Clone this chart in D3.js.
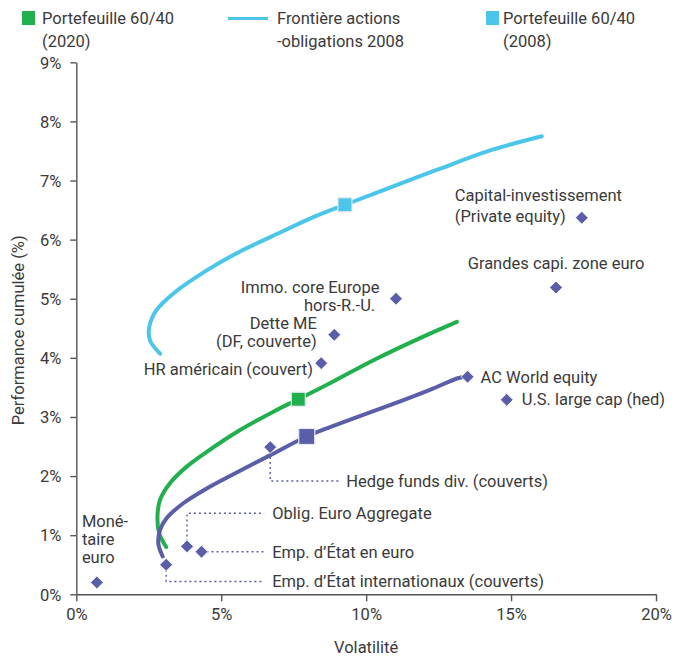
<!DOCTYPE html>
<html>
<head>
<meta charset="utf-8">
<script src="https://cdn.jsdelivr.net/npm/d3@7/dist/d3.min.js"></script>
<style>
  html, body { margin: 0; padding: 0; background: #fff; }
  svg text { font-family: Roboto, "Noto Sans", sans-serif; fill: #3a3a3a; }
</style>
</head>
<body>
<svg id="chart" width="690" height="657"></svg>
<script>
// ---------- DATA ----------
const xTicks = [0, 5, 10, 15, 20];
const yTicks = [0, 1, 2, 3, 4, 5, 6, 7, 8, 9];

const assetNames = [
  "Monétaire euro", "Emp. d’État internationaux (couverts)", "Oblig. Euro Aggregate",
  "Emp. d’État en euro", "Hedge funds div. (couverts)", "HR américain (couvert)",
  "Dette ME (DF, couverte)", "Immo. core Europe hors-R.-U.", "Capital-investissement (Private equity)",
  "Grandes capi. zone euro", "AC World equity", "U.S. large cap (hed)"
];
const assetVol = [0.71, 3.10, 3.82, 4.32, 6.69, 8.45, 8.90, 11.03, 17.44, 16.55, 13.50, 14.85];
const assetRet = [0.20, 0.50, 0.81, 0.72, 2.49, 3.91, 4.39, 5.00, 6.37, 5.19, 3.68, 3.29];

// Frontière actions-obligations 2008 (cyan)
const frontier2008Vol = [2.89, 2.54, 2.52, 2.77, 3.35, 4.50, 5.65, 7.03, 8.18, 9.27, 10.82, 12.55, 14.28, 16.06];
const frontier2008Ret = [4.07, 4.30, 4.53, 4.81, 5.09, 5.48, 5.80, 6.12, 6.38, 6.59, 6.88, 7.20, 7.51, 7.75];

// Frontière 2020 (green)
const frontier2020Vol = [3.10, 2.86, 2.80, 2.89, 3.23, 3.81, 4.50, 5.65, 6.80, 7.66, 8.75, 10.25, 11.97, 13.13];
const frontier2020Ret = [0.80, 1.03, 1.31, 1.60, 1.88, 2.16, 2.41, 2.78, 3.09, 3.30, 3.57, 3.96, 4.36, 4.61];

// Frontière actuelle (purple)
const frontierNowVol = [2.98, 2.83, 2.89, 3.12, 3.69, 4.50, 5.65, 6.68, 7.95, 9.10, 10.82, 12.20, 13.19, 13.45];
const frontierNowRet = [0.64, 0.86, 1.09, 1.29, 1.54, 1.79, 2.09, 2.35, 2.67, 2.89, 3.20, 3.46, 3.66, 3.68];

// Portefeuilles 60/40
const portfolioNames = ["Portefeuille 60/40 (2020)", "Portefeuille 60/40 (2008)", "Portefeuille 60/40 (actuel)"];
const portfolioVol = [7.66, 9.27, 7.95];
const portfolioRet = [3.30, 6.59, 2.67];

const legendLabels = [
  ["Portefeuille 60/40", "(2020)"],
  ["Frontière actions", "-obligations 2008"],
  ["Portefeuille 60/40", "(2008)"]
];

// ---------- STYLE / LAYOUT ----------
const GREEN = "#22b04f", CYAN = "#4bc5e9", PURPLE = "#5a5ea9";
const portfolioColors = [GREEN, CYAN, PURPLE];
const portfolioSizes = [14, 14, 16];

const svg = d3.select("#chart");
const x = d3.scaleLinear().domain([0, 20]).range([76.3, 656]);
const y = d3.scaleLinear().domain([0, 9]).range([594.3, 62.3]);
const FS = 16.5;

// Axes
const gx = svg.append("g").attr("transform", `translate(0,${y(0)})`)
  .call(d3.axisBottom(x).tickValues(xTicks).tickFormat(d => d + "%").tickSize(7).tickSizeOuter(0).tickPadding(7));
const gy = svg.append("g").attr("transform", `translate(${x(0)},0)`)
  .call(d3.axisLeft(y).tickValues(yTicks).tickFormat(d => d + "%").tickSize(6).tickSizeOuter(0).tickPadding(9));
[gx, gy].forEach(g => {
  g.select(".domain").attr("stroke", "#555").attr("stroke-width", 1.4);
  g.selectAll(".tick line").attr("stroke", "#555").attr("stroke-width", 1.4);
  g.selectAll(".tick text").attr("font-size", FS).attr("fill", "#3a3a3a")
    .style("font-family", "Roboto, 'Noto Sans', sans-serif");
});
gy.selectAll(".tick text").attr("dy", "0.35em");

svg.append("text").attr("x", (x(0) + x(20)) / 2).attr("y", 653)
  .attr("text-anchor", "middle").attr("font-size", FS).text("Volatilité");
svg.append("text").attr("transform", `translate(24,${(y(0) + y(9)) / 2 + 2}) rotate(-90)`)
  .attr("text-anchor", "middle").attr("font-size", FS).text("Performance cumulée (%)");

// Curves
const line = d3.line().x(d => x(d[0])).y(d => y(d[1])).curve(d3.curveCatmullRom.alpha(0.5));
const curves = [
  [frontier2008Vol, frontier2008Ret, CYAN],
  [frontier2020Vol, frontier2020Ret, GREEN],
  [frontierNowVol, frontierNowRet, PURPLE]
];
curves.forEach(([vx, vy, c]) => {
  svg.append("path").datum(vx.map((v, i) => [v, vy[i]]))
    .attr("d", line).attr("fill", "none").attr("stroke", c)
    .attr("stroke-width", 4).attr("stroke-linecap", "round");
});

// Leader lines (dotted) for bottom labels
// [asset index, elbow return (data), label volatility (data), line end volatility (data)]
const leaders = [
  [4, 1.917, 9.31, 9.10],
  [2, 1.37, 6.76, 6.48],
  [3, 0.72, 6.76, 6.48],
  [1, 0.217, 6.76, 6.48]
];
leaders.forEach(([i, er, lx, le]) => {
  const px = x(assetVol[i]), py = y(assetRet[i]);
  svg.append("path")
    .attr("d", `M${px},${py}L${px},${y(er)}L${x(le)},${y(er)}`)
    .attr("fill", "none").attr("stroke", PURPLE).attr("stroke-width", 1.4)
    .attr("stroke-dasharray", "2,3");
  svg.append("text").attr("x", x(lx)).attr("y", y(er)).attr("dy", "0.36em")
    .attr("font-size", FS).text(assetNames[i]);
});

// Diamonds
const diamond = d3.symbol().type(d3.symbolDiamond2).size(105);
assetNames.forEach((n, i) => {
  svg.append("path").attr("d", diamond())
    .attr("transform", `translate(${x(assetVol[i])},${y(assetRet[i])})`)
    .attr("fill", PURPLE).attr("stroke", "#fff").attr("stroke-width", 0.8);
});

// Portfolio squares
portfolioNames.forEach((n, i) => {
  const s = portfolioSizes[i];
  svg.append("rect")
    .attr("x", x(portfolioVol[i]) - s / 2).attr("y", y(portfolioRet[i]) - s / 2)
    .attr("width", s).attr("height", s)
    .attr("fill", portfolioColors[i]).attr("stroke", "#e6e6f0").attr("stroke-width", 1.2);
});

// Point labels: [asset index, lines, dx, dy(first baseline), anchor, line spacing]
const pointLabels = [
  [0, ["Moné-", "taire", "euro"], -15, -55.5, "start", 18],
  [8, ["Capital-investissement", "(Private equity)"], -127, -17, "start", 21],
  [9, ["Grandes capi. zone euro"], 0, -19, "middle", 0],
  [7, ["Immo. core Europe", "hors-R.-U."], -16.5, -5.5, "end", 17.6],
  [6, ["Dette ME", "(DF, couverte)"], -17.5, -5.8, "end", 17.6],
  [5, ["HR américain (couvert)"], -8.3, 11.8, "end", 0],
  [10, ["AC World equity"], 13, 6, "start", 0],
  [11, ["U.S. large cap (hed)"], 15, 5.5, "start", 0]
];
const lineOffsets = { 7: [0, -4.3] };
pointLabels.forEach(([i, lines, dx, dy, anchor, ls]) => {
  const px = x(assetVol[i]), py = y(assetRet[i]);
  const t = svg.append("text").attr("font-size", FS).attr("text-anchor", anchor);
  lines.forEach((l, k) => {
    const off = lineOffsets[i] ? lineOffsets[i][k] : 0;
    t.append("tspan").attr("x", px + dx + off).attr("y", py + dy + k * ls).text(l);
  });
});

// Legend
const lg = svg.append("g");
lg.append("rect").attr("x", 22).attr("y", 11).attr("width", 13).attr("height", 14).attr("fill", GREEN);
lg.append("line").attr("x1", 228).attr("x2", 268).attr("y1", 18.5).attr("y2", 18.5)
  .attr("stroke", CYAN).attr("stroke-width", 3);
lg.append("rect").attr("x", 486).attr("y", 11).attr("width", 13).attr("height", 14).attr("fill", CYAN);
const legendX = [42, 277, 503];
legendLabels.forEach((ls, i) => {
  const t = lg.append("text").attr("font-size", FS);
  ls.forEach((l, k) => t.append("tspan").attr("x", legendX[i]).attr("y", 24 + k * 23).text(l));
});
</script>
</body>
</html>
